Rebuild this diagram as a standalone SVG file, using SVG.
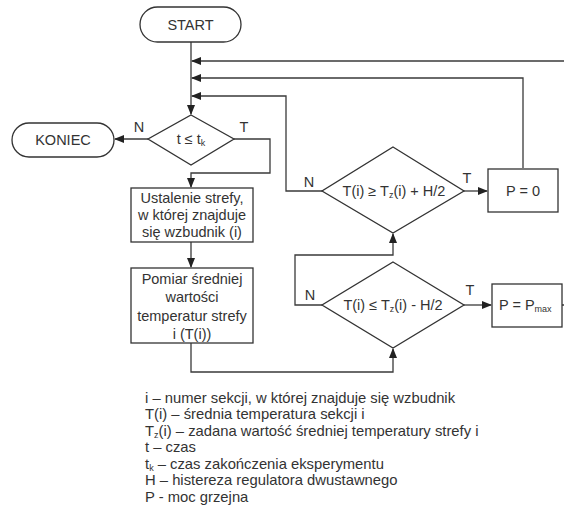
<svg xmlns="http://www.w3.org/2000/svg" width="564" height="515" viewBox="0 0 564 515">
<style>
.s{fill:#fff;stroke:#333;stroke-width:1.3}
.c{fill:none;stroke:#3a3a3a;stroke-width:1.3}
text{font-family:"Liberation Sans",Arial,sans-serif;fill:#333}
.t{font-size:14.5px;text-anchor:middle}
.l{font-size:14.8px}
.sub{font-size:9px}
</style>
<defs>
<marker id="a" markerWidth="10" markerHeight="8" refX="9" refY="4" orient="auto" markerUnits="userSpaceOnUse">
<path d="M0,0 L10,4 L0,8 z" fill="#222"/>
</marker>
</defs>
<rect width="564" height="515" fill="#fff"/>
<g id="connectors">
<path class="c" d="M191,42 V114" marker-end="url(#a)"/>
<path class="c" d="M564,61 H192" marker-end="url(#a)"/>
<path class="c" d="M523,168 V78 H192" marker-end="url(#a)"/>
<path class="c" d="M322,191 H286 V96 H192" marker-end="url(#a)"/>
<path class="c" d="M148,139 H115" marker-end="url(#a)"/>
<path class="c" d="M234,139 H270 V173 H191 V187" marker-end="url(#a)"/>
<path class="c" d="M191,242 V267" marker-end="url(#a)"/>
<path class="c" d="M191,343 V372 H393 V349" marker-end="url(#a)"/>
<path class="c" d="M322,305 H295 V255 H393 V234" marker-end="url(#a)"/>
<path class="c" d="M464,191 H487" marker-end="url(#a)"/>
<path class="c" d="M464,305 H491" marker-end="url(#a)"/>
<path class="c" d="M562,305 H564"/>
<text class="t" x="139" y="132">N</text>
<text class="t" x="244" y="132">T</text>
<text class="t" x="309" y="187">N</text>
<text class="t" x="467" y="183">T</text>
<text class="t" x="310" y="300">N</text>
<text class="t" x="470" y="295">T</text>
</g>
<g id="start">
<rect class="s" x="140" y="7" width="101" height="35" rx="17.5"/>
<text class="t" x="190.5" y="30">START</text>
</g>
<g id="koniec">
<rect class="s" x="12" y="123" width="102" height="34" rx="17"/>
<text class="t" x="63" y="145">KONIEC</text>
</g>
<g id="d1">
<polygon class="s" points="191,115 234,139 191,165 148,139"/>
<text class="t" x="191" y="144">t ≤ t<tspan class="sub" dy="2">k</tspan></text>
</g>
<g id="box1">
<rect class="s" x="131" y="188" width="122" height="54"/>
<text class="t" x="192" y="203">Ustalenie strefy,</text>
<text class="t" x="192" y="220">w której znajduje</text>
<text class="t" x="192" y="237">się wzbudnik (i)</text>
</g>
<g id="box2">
<rect class="s" x="131" y="268" width="122" height="75"/>
<text class="t" x="192" y="284">Pomiar średniej</text>
<text class="t" x="192" y="302">wartości</text>
<text class="t" x="192" y="321">temperatur strefy</text>
<text class="t" x="192" y="339">i (T(i))</text>
</g>
<g id="d2">
<polygon class="s" points="393,147 464,191 393,233 322,191"/>
<text class="t" x="394" y="196">T(i) ≥ T<tspan class="sub" dy="2">z</tspan><tspan dy="-2">(i) + H/2</tspan></text>
</g>
<g id="d3">
<polygon class="s" points="393,262 464,305 393,348 322,305"/>
<text class="t" x="393" y="310">T(i) ≤ T<tspan class="sub" dy="2">z</tspan><tspan dy="-2">(i) - H/2</tspan></text>
</g>
<g id="p0">
<rect class="s" x="488" y="169" width="70" height="43"/>
<text class="t" x="523" y="196">P = 0</text>
</g>
<g id="pmax">
<rect class="s" x="492" y="284" width="70" height="43"/>
<text x="499" y="310" style="font-size:14.5px">P = P<tspan class="sub" dy="2">max</tspan></text>
</g>
<g id="legend">
<text class="l" x="145" y="403">i – numer sekcji, w której znajduje się wzbudnik</text>
<text class="l" x="145" y="419">T(i) – średnia temperatura sekcji i</text>
<text class="l" x="145" y="436">T<tspan class="sub" dy="2">z</tspan><tspan dy="-2">(i) – zadana wartość średniej temperatury strefy i</tspan></text>
<text class="l" x="145" y="452">t – czas</text>
<text class="l" x="145" y="469">t<tspan class="sub" dy="2">k</tspan><tspan dy="-2"> – czas zakończenia eksperymentu</tspan></text>
<text class="l" x="145" y="485">H – histereza regulatora dwustawnego</text>
<text class="l" x="145" y="502">P - moc grzejna</text>
</g>
</svg>
